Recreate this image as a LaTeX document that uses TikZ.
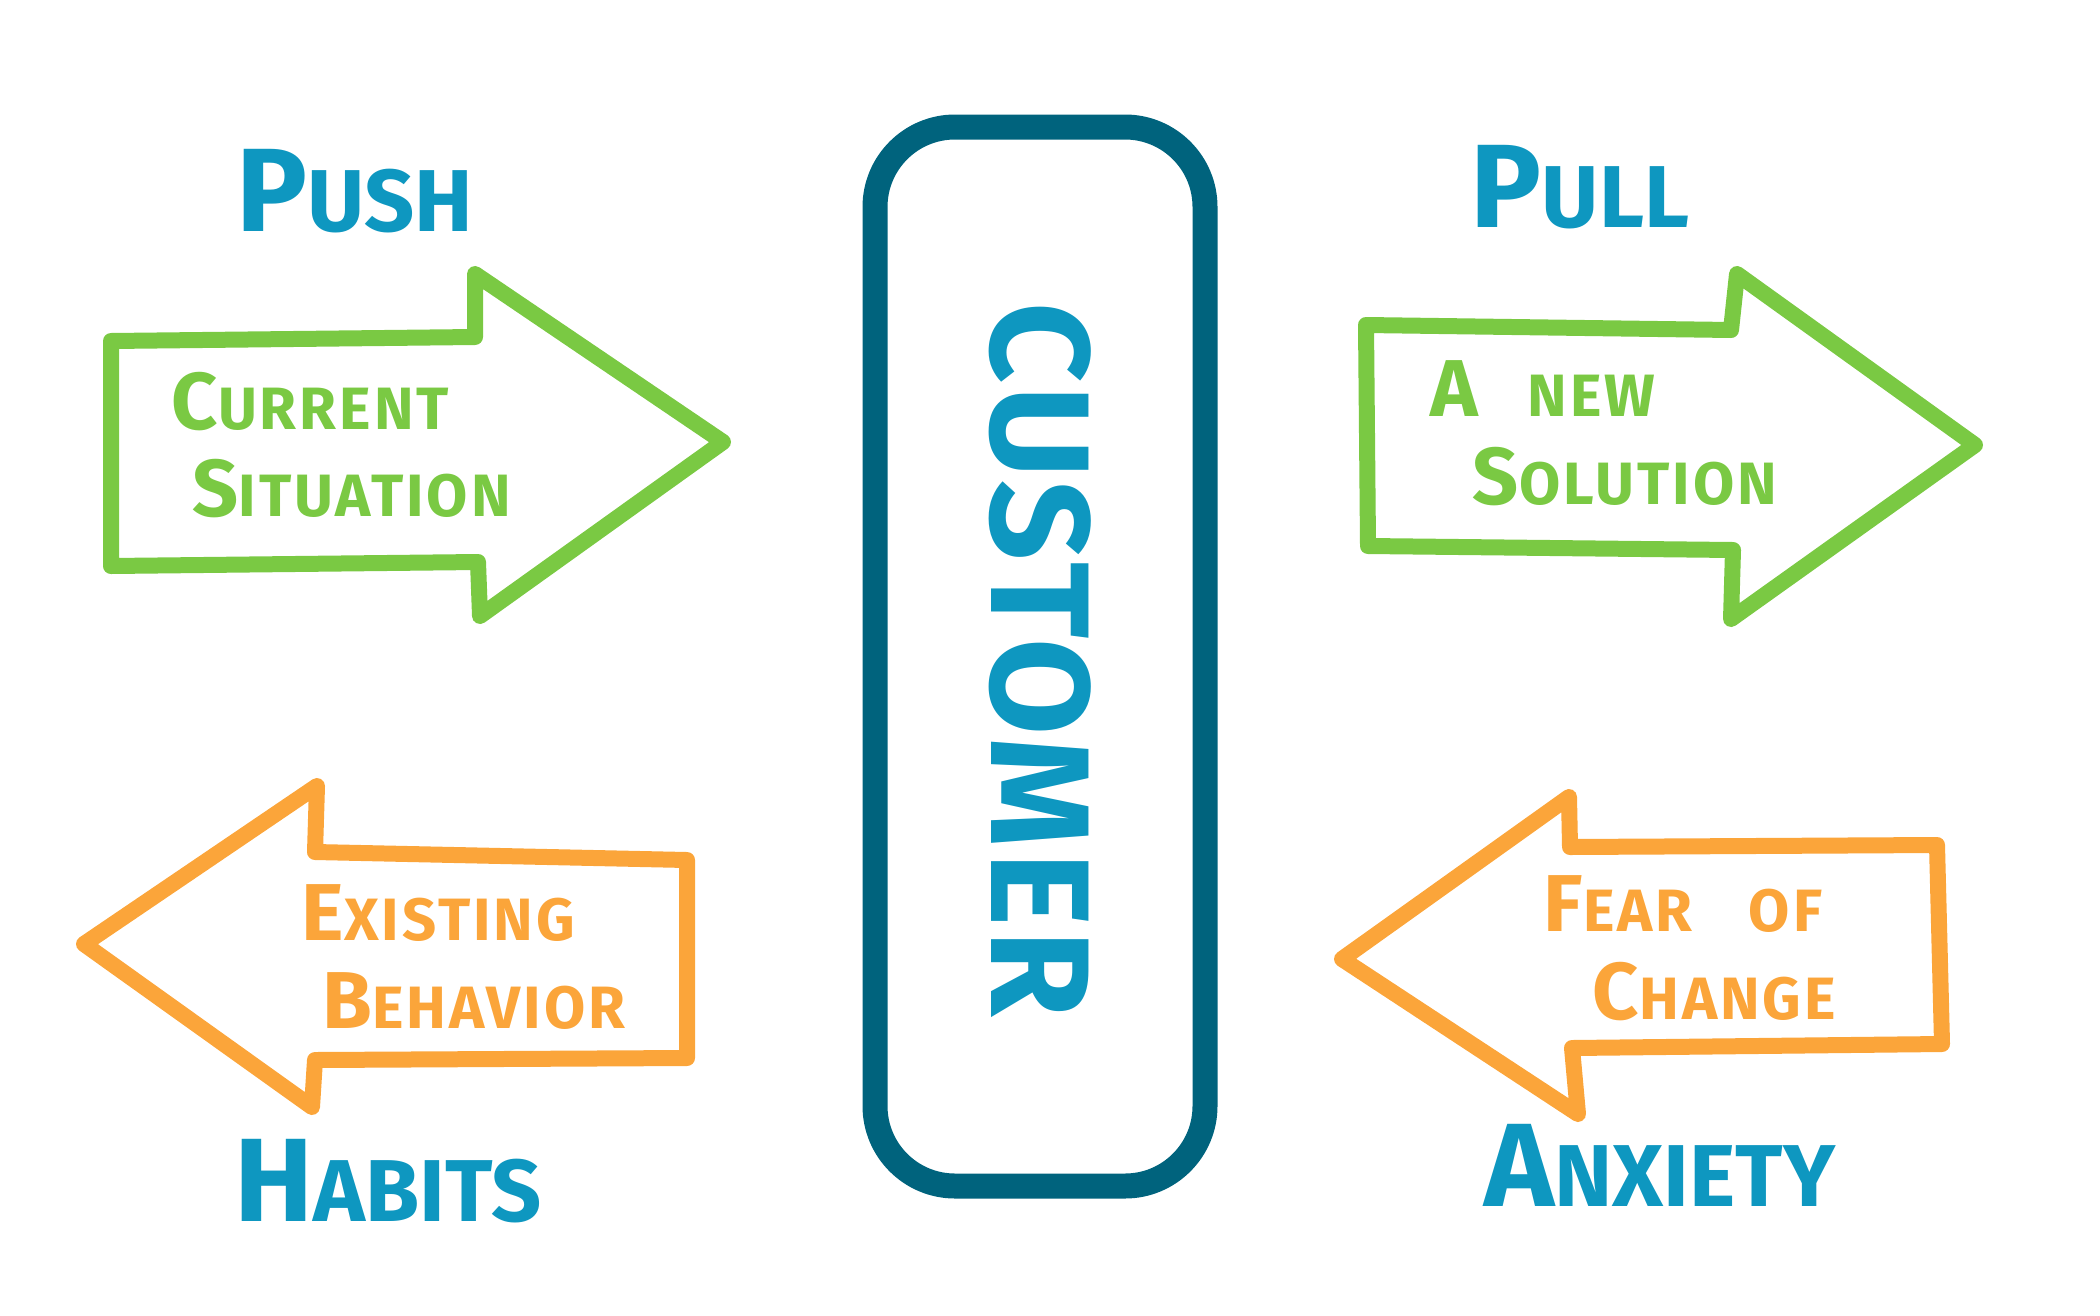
\documentclass[tikz,border=0pt]{standalone}
\usepackage{fontspec}
\setmainfont{Fira Sans}
\usetikzlibrary{positioning}
\definecolor{forcegreen}{HTML}{7AC943}
\definecolor{forceorange}{HTML}{FBA53A}
\definecolor{labelblue}{HTML}{0E97C0}
\definecolor{boxteal}{HTML}{00637D}

% first letter big, the rest smaller capitals
\newcommand{\capword}[2]{{\fontsize{1.35em}{1.35em}\selectfont #1}#2}

\begin{document}
\begin{tikzpicture}[
    x=0.1mm, y=-0.1mm,
    arrowline/.style={line width=1.6mm, line join=round, line cap=round},
    inner/.style={anchor=west, align=left, inner xsep=0pt,
        font=\fontsize{17}{25}\selectfont\bfseries\addfontfeature{LetterSpace=5}},
    force/.style={text=labelblue, font=\fontsize{25}{30}\selectfont\bfseries}
]
    \useasboundingbox (0,0) rectangle (2100,1315);

    % Customer
    \draw[boxteal, line width=2.5mm, rounded corners=8mm] (875,127) rectangle (1205,1186);
    \node[text=labelblue, rotate=-90, font=\fontsize{40}{40}\selectfont\bfseries\addfontfeature{LetterSpace=3}] (customer) at (1040,660) {CUSTOMER};

    % Push arrow
    \draw[forcegreen, arrowline] (111,341) -- (475,337) -- (475,274) -- (723,442)
        -- (480,616) -- (478,562) -- (111,566) -- cycle;
    \node[inner, text=forcegreen] (current) at (171,445) {\capword{C}{URRENT}\\\hspace{6pt}\capword{S}{ITUATION}};
    \node[force] (push) at (355,191) {\capword{P}{USH}};

    % Pull arrow
    \draw[forcegreen, arrowline] (1366,325) -- (1731,330) -- (1737,274) -- (1975,445)
        -- (1731,619) -- (1733,550) -- (1368,546) -- cycle;
    \node[inner, text=forcegreen] (solution) at (1430,433) {\capword{A}{\hspace{14pt}NEW}\\\hspace{12pt}\capword{S}{OLUTION}};
    \node[force] (pull) at (1580,187) {\capword{P}{ULL}};

    % Habits arrow
    \draw[forceorange, arrowline] (687,860) -- (687,1058) -- (315,1060) -- (312,1107)
        -- (84,944) -- (317,786) -- (315,852) -- cycle;
    \node[inner, text=forceorange] (behavior) at (301,957) {\capword{E}{XISTING}\\\hspace{6pt}\capword{B}{EHAVIOR}};
    \node[force] (habits) at (388,1181) {\capword{H}{ABITS}};

    % Anxiety arrow
    \draw[forceorange, arrowline] (1569,797) -- (1570,847) -- (1937,845) -- (1942,1044)
        -- (1572,1048) -- (1578,1114) -- (1342,959) -- cycle;
    \node[inner, text=forceorange] (fear) at (1543,948) {\capword{F}{EAR\hspace{16pt}OF}\\\hspace{14pt}\capword{C}{HANGE}};
    \node[force] (anxiety) at (1660,1165) {\capword{A}{NXIETY}};
\end{tikzpicture}
\end{document}
